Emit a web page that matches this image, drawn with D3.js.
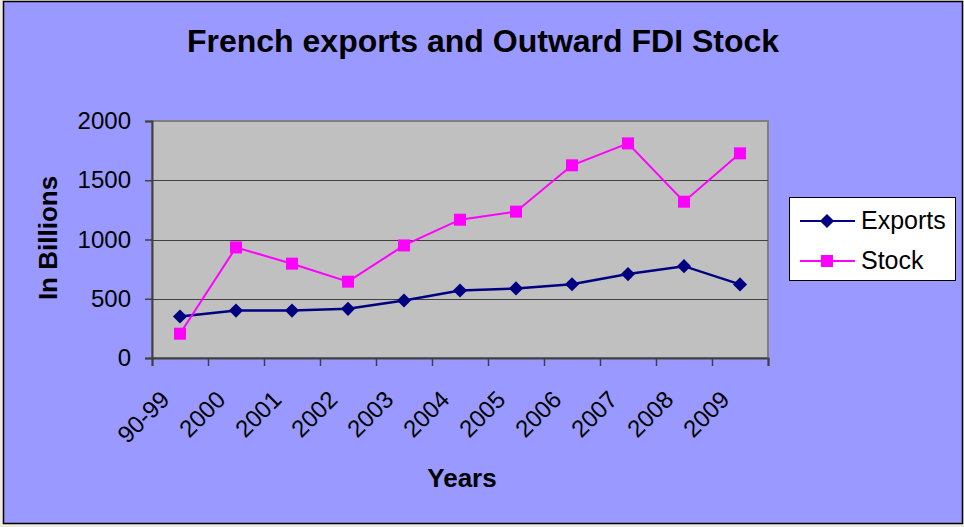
<!DOCTYPE html>
<html>
<head>
<meta charset="utf-8">
<script src="https://cdn.jsdelivr.net/npm/d3@7"></script>
<style>
  html, body { margin: 0; padding: 0; background: #eeece1; }
  svg { display: block; font-family: Arial, "Liberation Sans", sans-serif; }
</style>
</head>
<body>
<div id="chart"></div>
<script>
var years = ['90-99', '2000', '2001', '2002', '2003', '2004', '2005', '2006', '2007', '2008', '2009']
var exportsVals = [350, 400, 400, 415, 485, 570, 587, 622, 708, 775, 621]
var stockVals = [205, 933, 796, 644, 950, 1167, 1235, 1626, 1811, 1319, 1727]
var yTicks = [0, 500, 1000, 1500, 2000]

var width = 964, height = 527
var plotLeft = 152, plotRight = 768, plotTop = 121, plotBottom = 358

var svg = d3.select('#chart').append('svg')
  .attr('width', width)
  .attr('height', height)

// chart background
svg.append('rect')
  .attr('x', 3.5).attr('y', 1.5)
  .attr('width', 959).attr('height', 522)
  .attr('fill', '#9999ff')
  .attr('stroke', '#000').attr('stroke-width', 1.5)

var x = d3.scaleBand().domain(years).range([plotLeft, plotRight])
var xEdge = d3.scaleLinear().domain([0, years.length]).range([plotLeft, plotRight])
var y = d3.scaleLinear().domain([0, 2000]).range([plotBottom, plotTop])

// plot area
svg.append('rect')
  .attr('x', plotLeft).attr('y', plotTop)
  .attr('width', plotRight - plotLeft).attr('height', plotBottom - plotTop)
  .attr('fill', '#c0c0c0')
  .attr('stroke', '#808080').attr('stroke-width', 2)

// gridlines
svg.append('g').selectAll('line')
  .data(yTicks.filter(function(d) { return d > 0 && d < 2000 }))
  .enter().append('line')
    .attr('x1', plotLeft).attr('x2', plotRight)
    .attr('y1', function(d) { return Math.round(y(d)) + 0.5 })
    .attr('y2', function(d) { return Math.round(y(d)) + 0.5 })
    .attr('stroke', '#404040').attr('stroke-width', 1)

// y axis
var yAxis = svg.append('g')
  .attr('transform', 'translate(' + plotLeft + ',0)')
  .call(d3.axisLeft(y).tickValues(yTicks).tickFormat(d3.format('d')).tickSize(7).tickPadding(14))
yAxis.select('.domain').attr('stroke', '#404040').attr('stroke-width', 2)
yAxis.selectAll('.tick line').attr('stroke', '#404040').attr('stroke-width', 1.5)
yAxis.selectAll('text').attr('font-size', 24).attr('fill', '#000')
  .attr('font-family', 'Arial, "Liberation Sans", sans-serif')

// x axis: ticks at category edges
var xAxis = svg.append('g')
  .attr('transform', 'translate(0,' + plotBottom + ')')
  .call(d3.axisBottom(xEdge).tickValues(d3.range(years.length + 1)).tickSize(8).tickFormat(''))
xAxis.select('.domain').attr('stroke', '#404040').attr('stroke-width', 2)
xAxis.selectAll('.tick line').attr('stroke', '#404040').attr('stroke-width', 1.5)

// x labels, rotated
var xLab = svg.append('g')
  .attr('transform', 'translate(0,' + plotBottom + ')')
  .call(d3.axisBottom(x).tickSize(0).tickFormat(function(d) { return d }))
xLab.select('.domain').remove()
xLab.selectAll('text')
  .attr('font-size', 24).attr('fill', '#000')
  .attr('font-family', 'Arial, "Liberation Sans", sans-serif')
  .attr('text-anchor', 'end')
  .attr('y', 0).attr('dy', 0)
  .attr('transform', 'translate(-9,43) rotate(-45)')

// lines
var line = function(vals) {
  return d3.line()
    .x(function(d, i) { return x(years[i]) + x.bandwidth() / 2 })
    .y(function(d) { return y(d) })(vals)
}

svg.append('path')
  .attr('d', line(exportsVals))
  .attr('fill', 'none').attr('stroke', '#000080').attr('stroke-width', 2.5)
svg.append('path')
  .attr('d', line(stockVals))
  .attr('fill', 'none').attr('stroke', '#ff00ff').attr('stroke-width', 2)

var diamond = d3.symbol().type(d3.symbolSquare).size(100)
svg.append('g').selectAll('path')
  .data(exportsVals)
  .enter().append('path')
    .attr('d', diamond)
    .attr('transform', function(d, i) {
      return 'translate(' + (x(years[i]) + x.bandwidth() / 2) + ',' + y(d) + ') rotate(45)'
    })
    .attr('fill', '#000080')

svg.append('g').selectAll('rect')
  .data(stockVals)
  .enter().append('rect')
    .attr('x', function(d, i) { return x(years[i]) + x.bandwidth() / 2 - 6 })
    .attr('y', function(d) { return y(d) - 6 })
    .attr('width', 12).attr('height', 12)
    .attr('fill', '#ff00ff')

// titles
svg.append('text')
  .attr('x', 483).attr('y', 52)
  .attr('text-anchor', 'middle')
  .attr('font-size', 32).attr('font-weight', 'bold')
  .text('French exports and Outward FDI Stock')

svg.append('text')
  .attr('transform', 'translate(57,238) rotate(-90)')
  .attr('text-anchor', 'middle')
  .attr('font-size', 26).attr('font-weight', 'bold')
  .text('In Billions')

svg.append('text')
  .attr('x', 462).attr('y', 487)
  .attr('text-anchor', 'middle')
  .attr('font-size', 26).attr('font-weight', 'bold')
  .text('Years')

// legend
var legend = svg.append('g')
legend.append('rect')
  .attr('x', 789.5).attr('y', 197.5)
  .attr('width', 166).attr('height', 83)
  .attr('fill', '#fff').attr('stroke', '#000').attr('stroke-width', 1)

var legendItems = [
  { name: 'Exports', color: '#000080', y: 221, shape: 'diamond' },
  { name: 'Stock', color: '#ff00ff', y: 261, shape: 'square' }
]
legendItems.forEach(function(it) {
  legend.append('line')
    .attr('x1', 800).attr('x2', 855)
    .attr('y1', it.y).attr('y2', it.y)
    .attr('stroke', it.color).attr('stroke-width', 2)
  if (it.shape == 'diamond') {
    legend.append('path')
      .attr('d', diamond)
      .attr('transform', 'translate(827,' + it.y + ') rotate(45)')
      .attr('fill', it.color)
  } else {
    legend.append('rect')
      .attr('x', 821).attr('y', it.y - 6)
      .attr('width', 12).attr('height', 12)
      .attr('fill', it.color)
  }
  legend.append('text')
    .attr('x', 861).attr('y', it.y + 8)
    .attr('font-size', 25)
    .text(it.name)
})
</script>
</body>
</html>
